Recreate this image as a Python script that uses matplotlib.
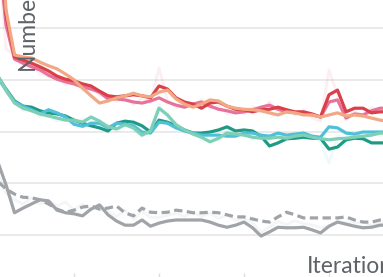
import numpy as np
import matplotlib
matplotlib.use("Agg")
import matplotlib.pyplot as plt

# iterations (the visible window of the run)
iters = np.arange(1, 48)

red = [64.7, 42.5, 34.4, 33.8, 33.2, 32.5, 31.7, 30.7, 30.1, 29.8, 29.2, 28.8, 27.8, 26.9, 26.7, 26.9,
       27.1, 26.9, 26.5, 28.8, 28.2, 26.5, 25.7, 25.3, 24.5, 25.5, 25.7, 24.9, 24.3, 24.2, 23.8, 24.2,
       24.3, 24.7, 24.2, 23.8, 23.8, 23.4, 22.8, 27.1, 28.0, 23.8, 24.5, 24.5, 23.6, 23.8, 23.8]
pink = [57.0, 40.6, 34.0, 33.2, 32.5, 31.9, 30.9, 30.1, 29.6, 29.2, 28.6, 28.2, 27.6, 26.3, 26.3, 26.1,
        25.7, 25.5, 25.9, 26.5, 25.7, 25.1, 24.7, 25.3, 25.7, 24.9, 24.3, 24.0, 23.6, 23.8, 24.2, 24.7,
        25.1, 24.3, 23.8, 23.6, 23.6, 23.2, 22.8, 25.7, 26.1, 22.6, 23.4, 23.2, 24.0, 24.5, 24.5]
peach = [68.6, 43.5, 34.8, 34.4, 34.2, 33.4, 32.7, 32.1, 31.1, 30.0, 28.4, 26.9, 25.5, 25.9, 26.5, 26.9,
         27.4, 26.9, 26.7, 27.6, 28.0, 26.3, 25.3, 24.7, 25.3, 26.1, 25.9, 24.9, 24.5, 24.3, 24.2, 24.0,
         23.6, 23.2, 23.8, 23.6, 23.2, 23.2, 22.8, 23.2, 23.6, 23.0, 23.2, 23.0, 22.6, 22.2, 22.0]

teal = [30.7, 28.2, 25.9, 24.9, 24.7, 24.0, 23.6, 23.4, 23.0, 22.2, 21.6, 21.1, 20.7, 20.1, 21.6, 22.0,
        21.8, 21.1, 19.9, 22.2, 21.8, 21.1, 20.3, 19.7, 19.7, 19.9, 20.3, 20.9, 20.1, 20.3, 20.1, 19.1,
        17.2, 17.8, 18.6, 18.7, 18.9, 18.7, 18.7, 16.6, 17.0, 18.4, 18.7, 18.6, 17.8, 17.8, 17.8]
cyan = [30.5, 28.0, 25.7, 24.9, 24.2, 23.4, 24.2, 23.6, 22.8, 21.4, 21.0, 21.6, 21.6, 20.7, 21.6, 21.4,
        21.1, 19.9, 19.7, 21.8, 21.6, 20.7, 20.1, 19.7, 19.3, 19.3, 19.3, 19.1, 19.1, 19.7, 19.7, 19.3,
        19.1, 19.7, 19.3, 19.5, 19.7, 19.1, 18.9, 20.9, 20.7, 19.7, 19.5, 19.9, 19.9, 19.9, 19.9]
mint = [30.9, 28.0, 25.5, 24.5, 24.0, 23.4, 23.0, 22.6, 22.2, 22.2, 21.8, 22.8, 22.0, 20.9, 20.5, 21.3,
        20.7, 19.3, 20.1, 24.5, 23.2, 21.3, 20.3, 19.5, 18.9, 18.0, 18.7, 19.7, 19.5, 19.3, 18.9, 18.7,
        18.7, 18.9, 18.7, 19.1, 19.3, 18.9, 18.6, 18.4, 18.6, 18.7, 18.9, 19.1, 19.3, 19.7, 19.7]

base_solid = [14.3, 9.7, 4.3, 5.2, 6.0, 6.8, 6.6, 4.8, 4.3, 4.1, 3.7, 5.0, 5.8, 3.9, 2.7, 1.9,
              1.9, 2.9, 1.7, 2.3, 2.7, 2.9, 2.9, 2.9, 2.9, 2.5, 1.9, 1.5, 1.9, 2.5, 1.4, -0.2,
              0.6, 1.5, 1.4, 1.4, 1.5, 1.0, 0.4, 1.7, 2.5, 2.1, 1.7, 1.4, 1.5, 1.9, 1.9]
base_dash = [10.4, 8.9, 7.9, 7.3, 7.2, 6.8, 6.0, 5.0, 4.4, 4.8, 5.4, 5.6, 5.0, 5.2, 5.6, 4.3,
             3.7, 5.2, 4.4, 4.3, 4.4, 4.8, 4.6, 4.3, 4.3, 4.4, 4.3, 3.9, 3.5, 3.5, 3.1, 2.7,
             2.5, 3.5, 4.4, 3.9, 3.3, 3.3, 3.3, 3.3, 3.3, 3.5, 2.9, 2.5, 2.5, 2.9, 2.9]

# faint raw (unsmoothed) traces
pink_raw = [57.0, 36.0, 34.6, 33.0, 32.8, 31.2, 30.6, 30.6, 29.0, 29.6, 28.0, 28.8, 27.0, 26.8, 25.8, 26.8,
            25.2, 26.4, 25.6, 32.3, 26.0, 24.6, 25.4, 24.8, 26.2, 24.4, 25.0, 23.4, 24.2, 23.4, 24.8, 24.0,
            25.8, 23.8, 24.4, 23.2, 24.2, 22.6, 22.0, 31.9, 27.0, 22.2, 24.0, 22.8, 24.6, 24.0, 25.0]
mint_raw = [30.9, 27.4, 26.0, 24.0, 24.6, 22.8, 23.6, 22.0, 22.8, 21.6, 22.4, 22.2, 21.6, 21.4, 20.0, 21.8,
            20.2, 19.0, 20.6, 25.2, 22.6, 21.8, 19.8, 20.0, 18.4, 18.6, 18.2, 20.2, 19.0, 19.8, 18.4, 19.2,
            18.2, 19.4, 18.2, 19.6, 18.8, 19.4, 18.0, 13.9, 19.2, 18.2, 19.4, 18.6, 19.8, 19.2, 20.2]
base_raw = [12.0, 8.0, 6.8, 6.0, 7.2, 6.0, 6.6, 5.6, 6.4, 4.8, 6.0, 5.0, 6.0, 4.6, 3.6, 4.8,
            3.0, 4.6, 3.4, 3.4, 3.8, 4.2, 3.6, 4.4, 3.6, 4.2, 3.2, 3.8, 2.8, 3.2, 2.4, 0.4,
            1.6, 2.6, 2.0, 2.8, 2.2, 2.0, 1.4, 1.8, 2.6, 2.4, 2.2, 2.6, 1.8, 2.4, 2.6]

grid_vals = [0, 10, 20, 30, 40]
xtick_vals = [10, 20, 30, 40]

fig = plt.figure(figsize=(3.83, 2.77), dpi=100)
ax = fig.add_axes([0, 4 / 277, 1, 273 / 277])

ax.plot(iters, pink_raw, color='#e8739a', lw=2, alpha=0.11)
ax.plot(iters, mint_raw, color='#6cc9d6', lw=2, alpha=0.11)
ax.plot(iters, base_raw, color='#a0a4a8', lw=2, alpha=0.10)

ax.plot(iters, base_dash, color='#a0a4a8', lw=2.3, dashes=(2.6, 1.4))
ax.plot(iters, base_solid, color='#a0a4a8', lw=2.3)
ax.plot(iters, teal, color='#1f9a85', lw=2.3)
ax.plot(iters, cyan, color='#4fc0d8', lw=2.3)
ax.plot(iters, mint, color='#7dcfb6', lw=2.3)
ax.plot(iters, pink, color='#e8739a', lw=2.3)
ax.plot(iters, red, color='#d9404a', lw=2.3)
ax.plot(iters, peach, color='#f2a882', lw=2.3)

ax.set_xlim(1.294, 46.35)
ax.set_ylim(-7.34, 45.41)
ax.set_yticks(grid_vals)
ax.set_xticks(xtick_vals)
ax.grid(axis='y', color='#e8e8e8', lw=1.3)
ax.set_axisbelow(True)
ax.tick_params(axis='y', left=False, labelleft=False)
ax.tick_params(axis='x', direction='out', length=4, width=1, color='#dddddd', labelbottom=False)
for s in ax.spines.values():
    s.set_visible(False)

fig.text(307 / 383, 4 / 277, 'Iteration', ha='left', va='baseline',
         fontsize=16.5, color='#5f6368', family='Lato')
fig.text(34 / 383, 207 / 277, 'Number', ha='left', va='baseline', rotation=90,
         rotation_mode='anchor', fontsize=16.5, color='#5f6368', family='Lato')

fig.savefig('out.png', dpi=100)
